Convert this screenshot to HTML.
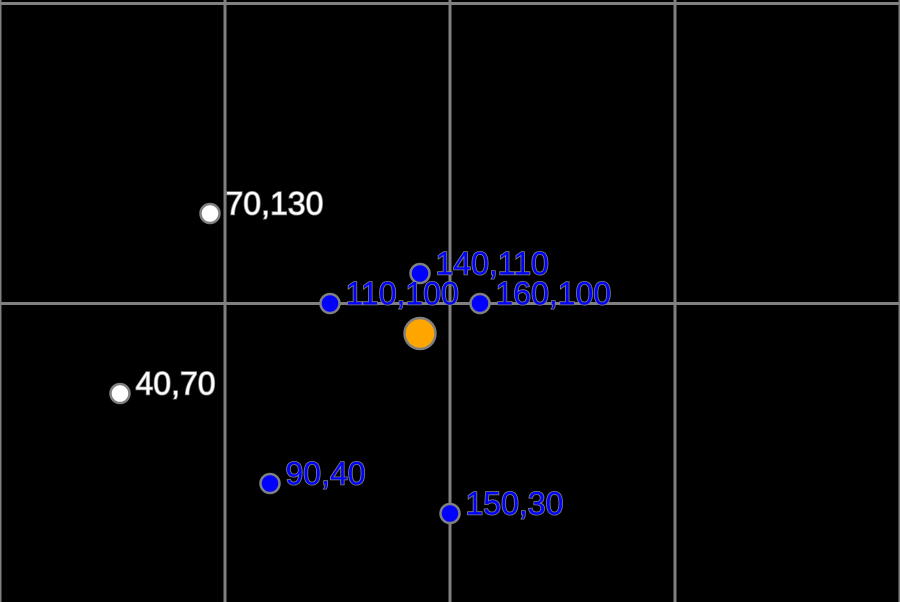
<!DOCTYPE html>
<html><head><meta charset="utf-8"><style>
html,body{margin:0;padding:0;background:#000;}
svg{display:block;}
text{font-family:"Liberation Sans",Arial,sans-serif;font-size:32px;}
</style></head><body>
<svg id="chart" width="900" height="602" viewBox="0 0 900 602"></svg>
<script>
const xs = [70, 40, 140, 110, 160, 90, 150];
const ys = [130, 70, 110, 100, 100, 40, 30];
const kinds = ['white','white','blue','blue','blue','blue','blue'];
const centerX = [140];
const centerY = [90];
const gridX = [0, 75, 150, 225, 300];
const gridY = [0, 100, 200];

const NS = 'http://www.w3.org/2000/svg';
const svg = document.getElementById('chart');
function sx(v){ return v * 3; }
function sy(v){ return 603.5 - v * 3; }
function mk(tag, attrs){ const e = document.createElementNS(NS, tag); for (const k in attrs) e.setAttribute(k, attrs[k]); svg.appendChild(e); return e; }

gridX.forEach(v => {
  const l = mk('line', {x1: sx(v), x2: sx(v), y1: 0, y2: 602, stroke: '#808080', 'stroke-width': 3});
  
  
});
gridY.forEach(v => {
  const l = mk('line', {x1: 0, x2: 900, y1: sy(v), y2: sy(v), stroke: '#808080', 'stroke-width': 3});
  
  
});

centerX.forEach((v, i) => {
  const c = mk('circle', {cx: sx(v), cy: sy(centerY[i]), r: 15.5, fill: '#ffa500', stroke: '#808080', 'stroke-width': 2.5});
  
  
});

xs.forEach((v, i) => {
  const cx = sx(v), cy = sy(ys[i]);
  const fill = kinds[i] === 'white' ? '#ffffff' : '#0000ff';
  const c = mk('circle', {cx: cx, cy: cy, r: 9.5, fill: fill, stroke: '#808080', 'stroke-width': 2.5});
  
  
  const t = mk('text', {x: cx + 15.5, y: cy + 1, fill: fill, stroke: '#808080', 'stroke-width': 1.6, 'paint-order': 'stroke'});
  t.textContent = v + ',' + ys[i];
  
  
});
</script>
</body></html>
